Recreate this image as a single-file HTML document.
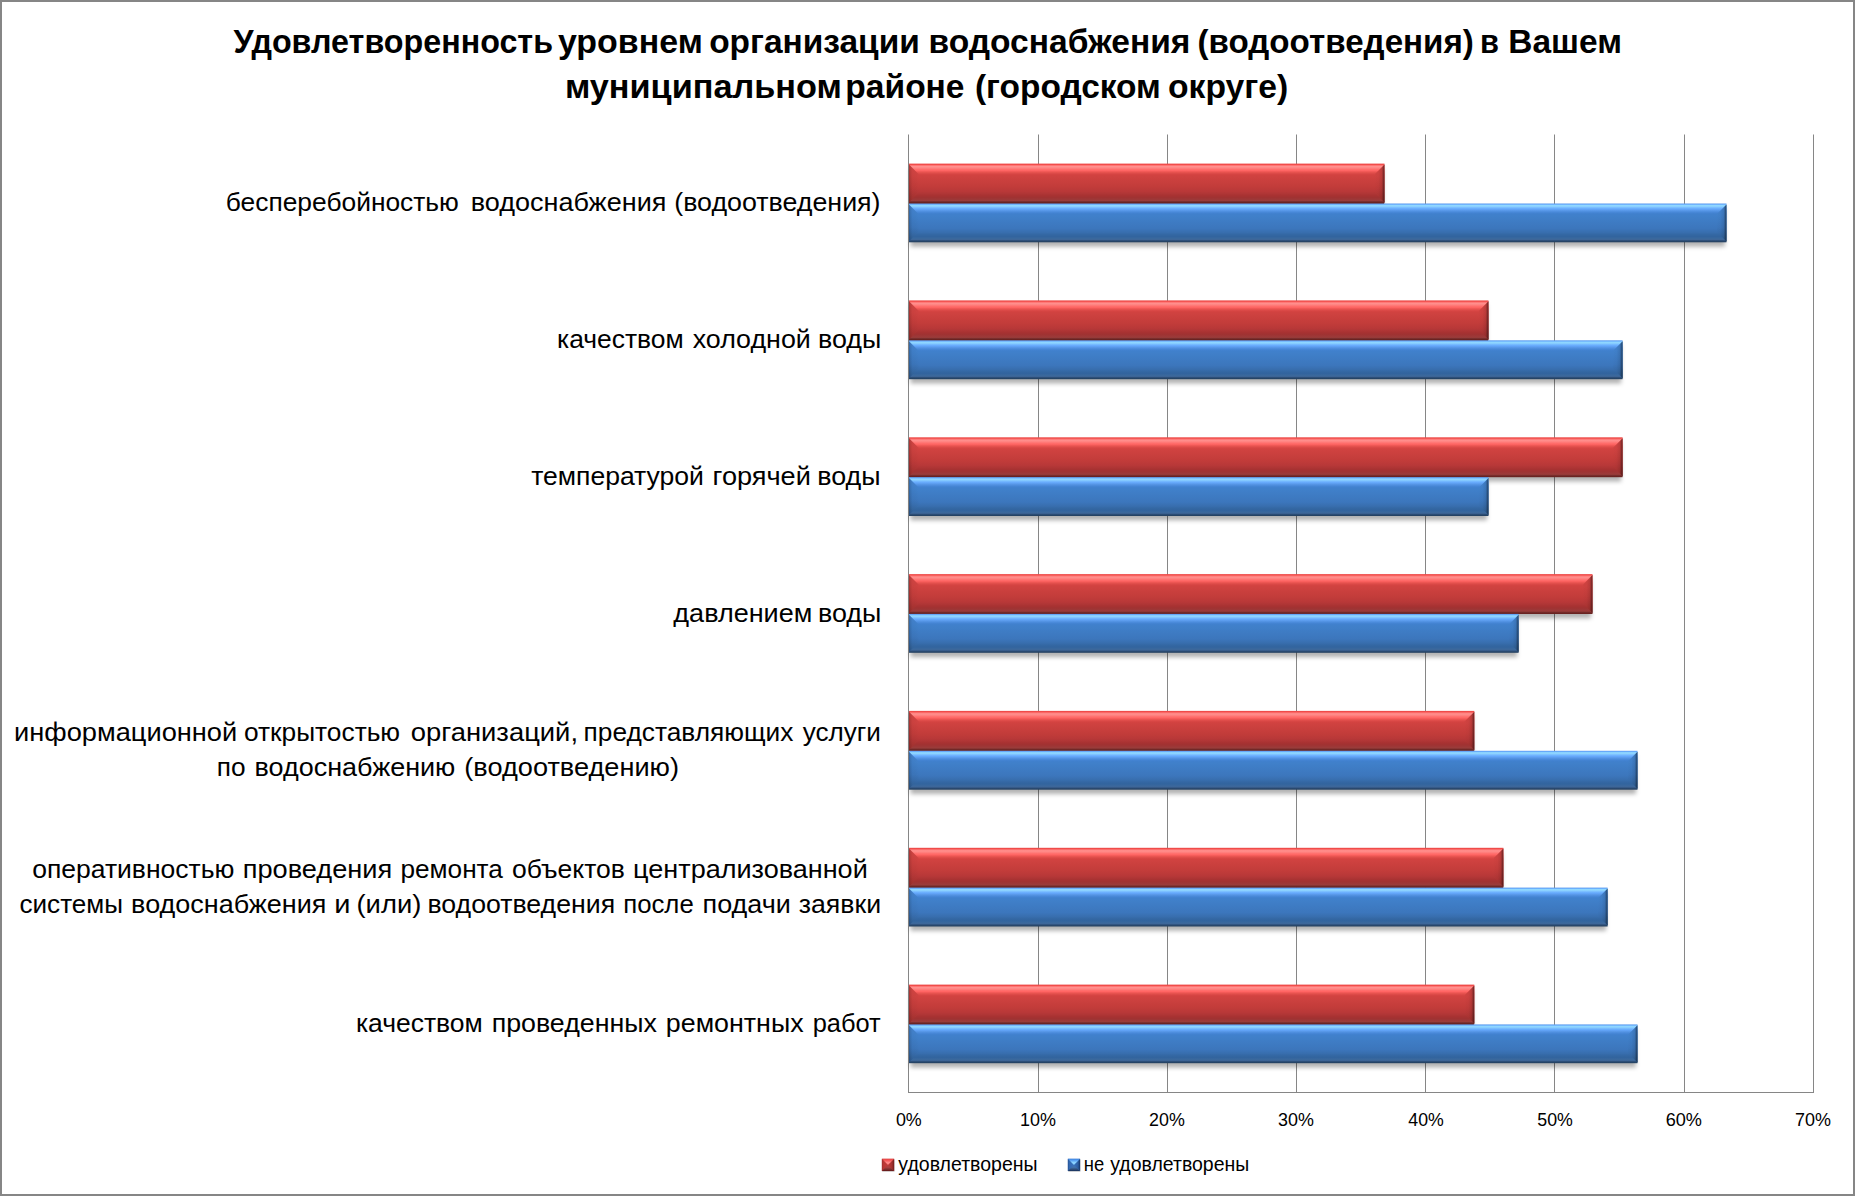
<!DOCTYPE html>
<html lang="ru"><head><meta charset="utf-8">
<title>Удовлетворенность уровнем организации водоснабжения (водоотведения)</title>
<style>
html,body{margin:0;padding:0;background:#fff;}
body{width:1855px;height:1196px;overflow:hidden;}
svg{display:block;}
text{font-family:"Liberation Sans", "DejaVu Sans", sans-serif;fill:#000;}
.t{font-weight:bold;font-size:33px;}
.c{font-size:25px;}
.a{font-size:18.6px;}
.l{font-size:19.6px;}
</style></head><body>
<svg width="1855" height="1196" viewBox="0 0 1855 1196">
<defs>
<linearGradient id="gr" x1="0" y1="0" x2="0" y2="1">
<stop offset="0" stop-color="#ec4a48"/>
<stop offset="0.02258" stop-color="#f04c4a"/>
<stop offset="0.04768" stop-color="#ff7472"/>
<stop offset="0.07277" stop-color="#ff908e"/>
<stop offset="0.09787" stop-color="#ff8886"/>
<stop offset="0.123" stop-color="#ff7c7a"/>
<stop offset="0.1481" stop-color="#ff6e6c"/>
<stop offset="0.1731" stop-color="#ff6664"/>
<stop offset="0.1982" stop-color="#f25a58"/>
<stop offset="0.2233" stop-color="#e6524e"/>
<stop offset="0.2484" stop-color="#dc4a48"/>
<stop offset="0.2735" stop-color="#d54442"/>
<stop offset="0.2986" stop-color="#d14240"/>
<stop offset="0.3237" stop-color="#cf4240"/>
<stop offset="0.5747" stop-color="#c23c3a"/>
<stop offset="0.7001" stop-color="#b83838"/>
<stop offset="0.7503" stop-color="#b03636"/>
<stop offset="0.8005" stop-color="#a83232"/>
<stop offset="0.8507" stop-color="#a03232"/>
<stop offset="0.9009" stop-color="#9c3838"/>
<stop offset="0.926" stop-color="#9a3c3a"/>
<stop offset="0.941" stop-color="#8c3634"/>
<stop offset="0.9511" stop-color="#7c3030"/>
<stop offset="0.9762" stop-color="#6a2422"/>
<stop offset="1" stop-color="#682220"/>
</linearGradient>
<linearGradient id="gb" x1="0" y1="0" x2="0" y2="1">
<stop offset="0" stop-color="#5c9cec"/>
<stop offset="0.02188" stop-color="#68acfc"/>
<stop offset="0.04762" stop-color="#90d8ff"/>
<stop offset="0.07336" stop-color="#8cd2ff"/>
<stop offset="0.0991" stop-color="#7cc0ff"/>
<stop offset="0.1248" stop-color="#6cb0fe"/>
<stop offset="0.1506" stop-color="#62a4f8"/>
<stop offset="0.1763" stop-color="#5a9aea"/>
<stop offset="0.2021" stop-color="#5090e0"/>
<stop offset="0.2278" stop-color="#4888d8"/>
<stop offset="0.2535" stop-color="#4282d0"/>
<stop offset="0.2793" stop-color="#4080cc"/>
<stop offset="0.3179" stop-color="#4080ca"/>
<stop offset="0.6448" stop-color="#3c76bc"/>
<stop offset="0.7477" stop-color="#386eae"/>
<stop offset="0.7992" stop-color="#3468a4"/>
<stop offset="0.8507" stop-color="#32649e"/>
<stop offset="0.8764" stop-color="#36669e"/>
<stop offset="0.9022" stop-color="#3a689c"/>
<stop offset="0.9279" stop-color="#3e6698"/>
<stop offset="0.9434" stop-color="#365a88"/>
<stop offset="0.9537" stop-color="#2e507a"/>
<stop offset="0.9794" stop-color="#264466"/>
<stop offset="1" stop-color="#244060"/>
</linearGradient>
<linearGradient id="fr" x1="0" y1="0" x2="0" y2="1">
<stop offset="0" stop-color="#d44644"/>
<stop offset="0.3" stop-color="#cf4240"/>
<stop offset="0.57" stop-color="#c23c3a"/>
<stop offset="0.7" stop-color="#b83838"/>
<stop offset="0.85" stop-color="#aa3432"/>
<stop offset="1" stop-color="#a03230"/>
</linearGradient>
<linearGradient id="fb" x1="0" y1="0" x2="0" y2="1">
<stop offset="0" stop-color="#4686d2"/>
<stop offset="0.3" stop-color="#4080ca"/>
<stop offset="0.62" stop-color="#3c76bc"/>
<stop offset="0.75" stop-color="#386eae"/>
<stop offset="0.87" stop-color="#34669f"/>
<stop offset="1" stop-color="#305f98"/>
</linearGradient>
<linearGradient id="hl" x1="0" y1="0" x2="1" y2="0">
<stop offset="0" stop-color="#000" stop-opacity="0.24"/>
<stop offset="0.12" stop-color="#000" stop-opacity="0.12"/>
<stop offset="0.35" stop-color="#000" stop-opacity="0.03"/>
<stop offset="1" stop-color="#000" stop-opacity="0"/>
</linearGradient>
<linearGradient id="hr" x1="0" y1="0" x2="1" y2="0">
<stop offset="0" stop-color="#000" stop-opacity="0"/>
<stop offset="0.37" stop-color="#000" stop-opacity="0.02"/>
<stop offset="0.68" stop-color="#000" stop-opacity="0.095"/>
<stop offset="0.8" stop-color="#000" stop-opacity="0.23"/>
<stop offset="0.895" stop-color="#000" stop-opacity="0.38"/>
<stop offset="1" stop-color="#000" stop-opacity="0.46"/>
</linearGradient>
<linearGradient id="mtr" x1="0" y1="0" x2="0" y2="1">
<stop offset="0" stop-color="#e64242"/>
<stop offset="0.25" stop-color="#f45656"/>
<stop offset="0.65" stop-color="#ff8c8c"/>
<stop offset="1" stop-color="#f87472"/>
</linearGradient>
<linearGradient id="mlr" x1="0" y1="0" x2="1" y2="0">
<stop offset="0" stop-color="#9c2c2a"/>
<stop offset="0.2" stop-color="#b83634"/>
<stop offset="1" stop-color="#c43c3a"/>
</linearGradient>
<linearGradient id="mrr" x1="0" y1="0" x2="1" y2="0">
<stop offset="0" stop-color="#c03a38"/>
<stop offset="0.6" stop-color="#a63230"/>
<stop offset="0.85" stop-color="#8a2826"/>
<stop offset="1" stop-color="#6a1818"/>
</linearGradient>
<linearGradient id="mbr" x1="0" y1="0" x2="0" y2="1">
<stop offset="0" stop-color="#b84240"/>
<stop offset="0.4" stop-color="#a84040"/>
<stop offset="0.72" stop-color="#7e2e2e"/>
<stop offset="1" stop-color="#601616"/>
</linearGradient>
<linearGradient id="mtb" x1="0" y1="0" x2="0" y2="1">
<stop offset="0" stop-color="#3a82de"/>
<stop offset="0.25" stop-color="#589ff2"/>
<stop offset="0.65" stop-color="#90d8ff"/>
<stop offset="1" stop-color="#7ac2fc"/>
</linearGradient>
<linearGradient id="mlb" x1="0" y1="0" x2="1" y2="0">
<stop offset="0" stop-color="#1e4c8c"/>
<stop offset="0.2" stop-color="#3468b0"/>
<stop offset="1" stop-color="#3a72bc"/>
</linearGradient>
<linearGradient id="mrb" x1="0" y1="0" x2="1" y2="0">
<stop offset="0" stop-color="#3870b8"/>
<stop offset="0.6" stop-color="#2e60a4"/>
<stop offset="0.85" stop-color="#224a84"/>
<stop offset="1" stop-color="#14305c"/>
</linearGradient>
<linearGradient id="mbb" x1="0" y1="0" x2="0" y2="1">
<stop offset="0" stop-color="#4072b6"/>
<stop offset="0.4" stop-color="#4070a8"/>
<stop offset="0.72" stop-color="#304e7a"/>
<stop offset="1" stop-color="#16305a"/>
</linearGradient>
<filter id="sh" x="-2%" y="-40%" width="104%" height="200%"><feGaussianBlur stdDeviation="2"/></filter>
<filter id="shm" x="-40%" y="-40%" width="180%" height="180%"><feGaussianBlur stdDeviation="0.7"/></filter>
</defs>
<rect x="0" y="0" width="1855" height="1196" fill="#fff"/>
<rect x="1" y="1" width="1853" height="1194" fill="none" stroke="#868686" stroke-width="2"/>
<rect x="908" y="134.5" width="1" height="958.5" fill="#868686"/>
<rect x="1038" y="134.5" width="1" height="958.5" fill="#868686"/>
<rect x="1167" y="134.5" width="1" height="958.5" fill="#868686"/>
<rect x="1296" y="134.5" width="1" height="958.5" fill="#868686"/>
<rect x="1425" y="134.5" width="1" height="958.5" fill="#868686"/>
<rect x="1554" y="134.5" width="1" height="958.5" fill="#868686"/>
<rect x="1684" y="134.5" width="1" height="958.5" fill="#868686"/>
<rect x="1813" y="134.5" width="1" height="958.5" fill="#868686"/>
<rect x="908" y="1092" width="906" height="1" fill="#868686"/>
<rect x="910.5" y="167.9" width="472.5" height="39.8" fill="#000" fill-opacity="0.3" filter="url(#sh)"/><rect x="909.0" y="163.6" width="475.5" height="39.8" fill="url(#gr)"/><polygon points="909.0,164.5 918.5,174.0 918.5,193.1 909.0,202.6" fill="url(#fr)"/><polygon points="909.0,164.5 918.5,174.0 918.5,193.1 909.0,202.6" fill="url(#hl)"/><polygon points="1384.5,164.5 1375.0,174.0 1375.0,193.1 1384.5,202.6" fill="url(#fr)"/><polygon points="1384.5,164.5 1375.0,174.0 1375.0,193.1 1384.5,202.6" fill="url(#hr)"/>
<rect x="909.0" y="203.05" width="475.0" height="1.4" fill="#682220"/>
<rect x="910.5" y="207.8" width="814.5" height="38.8" fill="#000" fill-opacity="0.3" filter="url(#sh)"/><rect x="909.0" y="203.5" width="817.5" height="38.8" fill="url(#gb)"/><polygon points="909.0,204.4 918.5,213.9 918.5,231.9 909.0,241.4" fill="url(#fb)"/><polygon points="909.0,204.4 918.5,213.9 918.5,231.9 909.0,241.4" fill="url(#hl)"/><polygon points="1726.5,204.4 1717.0,213.9 1717.0,231.9 1726.5,241.4" fill="url(#fb)"/><polygon points="1726.5,204.4 1717.0,213.9 1717.0,231.9 1726.5,241.4" fill="url(#hr)"/>
<rect x="910.5" y="304.7" width="576.5" height="39.9" fill="#000" fill-opacity="0.3" filter="url(#sh)"/><rect x="909.0" y="300.4" width="579.5" height="39.9" fill="url(#gr)"/><polygon points="909.0,301.3 918.5,310.8 918.5,329.9 909.0,339.4" fill="url(#fr)"/><polygon points="909.0,301.3 918.5,310.8 918.5,329.9 909.0,339.4" fill="url(#hl)"/><polygon points="1488.5,301.3 1479.0,310.8 1479.0,329.9 1488.5,339.4" fill="url(#fr)"/><polygon points="1488.5,301.3 1479.0,310.8 1479.0,329.9 1488.5,339.4" fill="url(#hr)"/>
<rect x="909.0" y="339.88" width="579.0" height="1.4" fill="#682220"/>
<rect x="910.5" y="344.6" width="710.6" height="38.9" fill="#000" fill-opacity="0.3" filter="url(#sh)"/><rect x="909.0" y="340.3" width="713.6" height="38.9" fill="url(#gb)"/><polygon points="909.0,341.2 918.5,350.7 918.5,368.7 909.0,378.2" fill="url(#fb)"/><polygon points="909.0,341.2 918.5,350.7 918.5,368.7 909.0,378.2" fill="url(#hl)"/><polygon points="1622.6,341.2 1613.1,350.7 1613.1,368.7 1622.6,378.2" fill="url(#fb)"/><polygon points="1622.6,341.2 1613.1,350.7 1613.1,368.7 1622.6,378.2" fill="url(#hr)"/>
<rect x="910.5" y="441.6" width="710.6" height="39.9" fill="#000" fill-opacity="0.3" filter="url(#sh)"/><rect x="909.0" y="437.3" width="713.6" height="39.9" fill="url(#gr)"/><polygon points="909.0,438.2 918.5,447.7 918.5,466.7 909.0,476.2" fill="url(#fr)"/><polygon points="909.0,438.2 918.5,447.7 918.5,466.7 909.0,476.2" fill="url(#hl)"/><polygon points="1622.6,438.2 1613.1,447.7 1613.1,466.7 1622.6,476.2" fill="url(#fr)"/><polygon points="1622.6,438.2 1613.1,447.7 1613.1,466.7 1622.6,476.2" fill="url(#hr)"/>
<rect x="909.0" y="476.71" width="579.0" height="1.4" fill="#682220"/>
<rect x="910.5" y="481.4" width="576.5" height="38.9" fill="#000" fill-opacity="0.3" filter="url(#sh)"/><rect x="909.0" y="477.1" width="579.5" height="38.9" fill="url(#gb)"/><polygon points="909.0,478.0 918.5,487.5 918.5,505.6 909.0,515.1" fill="url(#fb)"/><polygon points="909.0,478.0 918.5,487.5 918.5,505.6 909.0,515.1" fill="url(#hl)"/><polygon points="1488.5,478.0 1479.0,487.5 1479.0,505.6 1488.5,515.1" fill="url(#fb)"/><polygon points="1488.5,478.0 1479.0,487.5 1479.0,505.6 1488.5,515.1" fill="url(#hr)"/>
<rect x="910.5" y="578.4" width="680.5" height="39.9" fill="#000" fill-opacity="0.3" filter="url(#sh)"/><rect x="909.0" y="574.1" width="683.5" height="39.9" fill="url(#gr)"/><polygon points="909.0,575.0 918.5,584.5 918.5,603.5 909.0,613.0" fill="url(#fr)"/><polygon points="909.0,575.0 918.5,584.5 918.5,603.5 909.0,613.0" fill="url(#hl)"/><polygon points="1592.5,575.0 1583.0,584.5 1583.0,603.5 1592.5,613.0" fill="url(#fr)"/><polygon points="1592.5,575.0 1583.0,584.5 1583.0,603.5 1592.5,613.0" fill="url(#hr)"/>
<rect x="909.0" y="613.54" width="609.1" height="1.4" fill="#682220"/>
<rect x="910.5" y="618.2" width="606.6" height="38.9" fill="#000" fill-opacity="0.3" filter="url(#sh)"/><rect x="909.0" y="613.9" width="609.6" height="38.9" fill="url(#gb)"/><polygon points="909.0,614.8 918.5,624.3 918.5,642.4 909.0,651.9" fill="url(#fb)"/><polygon points="909.0,614.8 918.5,624.3 918.5,642.4 909.0,651.9" fill="url(#hl)"/><polygon points="1518.6,614.8 1509.1,624.3 1509.1,642.4 1518.6,651.9" fill="url(#fb)"/><polygon points="1518.6,614.8 1509.1,624.3 1509.1,642.4 1518.6,651.9" fill="url(#hr)"/>
<rect x="910.5" y="715.2" width="562.3" height="39.9" fill="#000" fill-opacity="0.3" filter="url(#sh)"/><rect x="909.0" y="710.9" width="565.3" height="39.9" fill="url(#gr)"/><polygon points="909.0,711.8 918.5,721.3 918.5,740.4 909.0,749.9" fill="url(#fr)"/><polygon points="909.0,711.8 918.5,721.3 918.5,740.4 909.0,749.9" fill="url(#hl)"/><polygon points="1474.3,711.8 1464.8,721.3 1464.8,740.4 1474.3,749.9" fill="url(#fr)"/><polygon points="1474.3,711.8 1464.8,721.3 1464.8,740.4 1474.3,749.9" fill="url(#hr)"/>
<rect x="909.0" y="750.37" width="564.8" height="1.4" fill="#682220"/>
<rect x="910.5" y="755.1" width="725.5" height="38.9" fill="#000" fill-opacity="0.3" filter="url(#sh)"/><rect x="909.0" y="750.8" width="728.5" height="38.9" fill="url(#gb)"/><polygon points="909.0,751.7 918.5,761.2 918.5,779.2 909.0,788.7" fill="url(#fb)"/><polygon points="909.0,751.7 918.5,761.2 918.5,779.2 909.0,788.7" fill="url(#hl)"/><polygon points="1637.5,751.7 1628.0,761.2 1628.0,779.2 1637.5,788.7" fill="url(#fb)"/><polygon points="1637.5,751.7 1628.0,761.2 1628.0,779.2 1637.5,788.7" fill="url(#hr)"/>
<rect x="910.5" y="852.0" width="591.4" height="39.9" fill="#000" fill-opacity="0.3" filter="url(#sh)"/><rect x="909.0" y="847.8" width="594.4" height="39.9" fill="url(#gr)"/><polygon points="909.0,848.6 918.5,858.1 918.5,877.2 909.0,886.7" fill="url(#fr)"/><polygon points="909.0,848.6 918.5,858.1 918.5,877.2 909.0,886.7" fill="url(#hl)"/><polygon points="1503.4,848.6 1493.9,858.1 1493.9,877.2 1503.4,886.7" fill="url(#fr)"/><polygon points="1503.4,848.6 1493.9,858.1 1493.9,877.2 1503.4,886.7" fill="url(#hr)"/>
<rect x="909.0" y="887.20" width="593.9" height="1.4" fill="#682220"/>
<rect x="910.5" y="891.9" width="695.6" height="38.9" fill="#000" fill-opacity="0.3" filter="url(#sh)"/><rect x="909.0" y="887.6" width="698.6" height="38.9" fill="url(#gb)"/><polygon points="909.0,888.5 918.5,898.0 918.5,916.1 909.0,925.6" fill="url(#fb)"/><polygon points="909.0,888.5 918.5,898.0 918.5,916.1 909.0,925.6" fill="url(#hl)"/><polygon points="1607.6,888.5 1598.1,898.0 1598.1,916.1 1607.6,925.6" fill="url(#fb)"/><polygon points="1607.6,888.5 1598.1,898.0 1598.1,916.1 1607.6,925.6" fill="url(#hr)"/>
<rect x="910.5" y="988.9" width="562.3" height="39.9" fill="#000" fill-opacity="0.3" filter="url(#sh)"/><rect x="909.0" y="984.6" width="565.3" height="39.9" fill="url(#gr)"/><polygon points="909.0,985.5 918.5,995.0 918.5,1014.0 909.0,1023.5" fill="url(#fr)"/><polygon points="909.0,985.5 918.5,995.0 918.5,1014.0 909.0,1023.5" fill="url(#hl)"/><polygon points="1474.3,985.5 1464.8,995.0 1464.8,1014.0 1474.3,1023.5" fill="url(#fr)"/><polygon points="1474.3,985.5 1464.8,995.0 1464.8,1014.0 1474.3,1023.5" fill="url(#hr)"/>
<rect x="909.0" y="1024.03" width="564.8" height="1.4" fill="#682220"/>
<rect x="910.5" y="1028.7" width="725.5" height="38.8" fill="#000" fill-opacity="0.3" filter="url(#sh)"/><rect x="909.0" y="1024.4" width="728.5" height="38.8" fill="url(#gb)"/><polygon points="909.0,1025.3 918.5,1034.8 918.5,1052.9 909.0,1062.4" fill="url(#fb)"/><polygon points="909.0,1025.3 918.5,1034.8 918.5,1052.9 909.0,1062.4" fill="url(#hl)"/><polygon points="1637.5,1025.3 1628.0,1034.8 1628.0,1052.9 1637.5,1062.4" fill="url(#fb)"/><polygon points="1637.5,1025.3 1628.0,1034.8 1628.0,1052.9 1637.5,1062.4" fill="url(#hr)"/>
<text class="t" y="53.0"><tspan x="233.38" textLength="319.64" lengthAdjust="spacingAndGlyphs">Удовлетворенность</tspan> <tspan x="557.94" textLength="144.82" lengthAdjust="spacingAndGlyphs">уровнем</tspan> <tspan x="709.20" textLength="210.62" lengthAdjust="spacingAndGlyphs">организации</tspan> <tspan x="928.48" textLength="261.95" lengthAdjust="spacingAndGlyphs">водоснабжения</tspan> <tspan x="1197.56" textLength="276.28" lengthAdjust="spacingAndGlyphs">(водоотведения)</tspan> <tspan x="1480.05" textLength="18.96" lengthAdjust="spacingAndGlyphs">в</tspan> <tspan x="1508.27" textLength="113.66" lengthAdjust="spacingAndGlyphs">Вашем</tspan></text>
<text class="t" y="98.0"><tspan x="564.92" textLength="276.97" lengthAdjust="spacingAndGlyphs">муниципальном</tspan> <tspan x="845.39" textLength="119.16" lengthAdjust="spacingAndGlyphs">районе</tspan> <tspan x="974.95" textLength="185.85" lengthAdjust="spacingAndGlyphs">(городском</tspan> <tspan x="1167.99" textLength="120.18" lengthAdjust="spacingAndGlyphs">округе)</tspan></text>
<text class="c" y="211.0"><tspan x="225.76" textLength="233.15" lengthAdjust="spacingAndGlyphs">бесперебойностью</tspan> <tspan x="470.74" textLength="195.62" lengthAdjust="spacingAndGlyphs">водоснабжения</tspan> <tspan x="674.26" textLength="206.29" lengthAdjust="spacingAndGlyphs">(водоотведения)</tspan></text>
<text class="c" y="348.0"><tspan x="557.02" textLength="126.69" lengthAdjust="spacingAndGlyphs">качеством</tspan> <tspan x="692.70" textLength="118.14" lengthAdjust="spacingAndGlyphs">холодной</tspan> <tspan x="817.96" textLength="63.27" lengthAdjust="spacingAndGlyphs">воды</tspan></text>
<text class="c" y="485.0"><tspan x="531.15" textLength="172.78" lengthAdjust="spacingAndGlyphs">температурой</tspan> <tspan x="712.64" textLength="98.23" lengthAdjust="spacingAndGlyphs">горячей</tspan> <tspan x="817.26" textLength="63.38" lengthAdjust="spacingAndGlyphs">воды</tspan></text>
<text class="c" y="622.0"><tspan x="673.34" textLength="139.02" lengthAdjust="spacingAndGlyphs">давлением</tspan> <tspan x="817.96" textLength="63.27" lengthAdjust="spacingAndGlyphs">воды</tspan></text>
<text class="c" y="741.0"><tspan x="14.11" textLength="223.07" lengthAdjust="spacingAndGlyphs">информационной</tspan> <tspan x="244.00" textLength="156.10" lengthAdjust="spacingAndGlyphs">открытостью</tspan> <tspan x="410.85" textLength="167.20" lengthAdjust="spacingAndGlyphs">организаций,</tspan> <tspan x="583.59" textLength="209.79" lengthAdjust="spacingAndGlyphs">представляющих</tspan> <tspan x="802.74" textLength="78.17" lengthAdjust="spacingAndGlyphs">услуги</tspan></text>
<text class="c" y="776.0"><tspan x="216.88" textLength="28.82" lengthAdjust="spacingAndGlyphs">по</tspan> <tspan x="254.54" textLength="200.78" lengthAdjust="spacingAndGlyphs">водоснабжению</tspan> <tspan x="464.34" textLength="214.63" lengthAdjust="spacingAndGlyphs">(водоотведению)</tspan></text>
<text class="c" y="878.0"><tspan x="32.19" textLength="202.22" lengthAdjust="spacingAndGlyphs">оперативностью</tspan> <tspan x="242.73" textLength="149.45" lengthAdjust="spacingAndGlyphs">проведения</tspan> <tspan x="400.42" textLength="102.48" lengthAdjust="spacingAndGlyphs">ремонта</tspan> <tspan x="511.90" textLength="112.95" lengthAdjust="spacingAndGlyphs">объектов</tspan> <tspan x="633.13" textLength="234.63" lengthAdjust="spacingAndGlyphs">централизованной</tspan></text>
<text class="c" y="913.0"><tspan x="19.49" textLength="103.61" lengthAdjust="spacingAndGlyphs">системы</tspan> <tspan x="131.14" textLength="195.32" lengthAdjust="spacingAndGlyphs">водоснабжения</tspan> <tspan x="334.39" textLength="16.23" lengthAdjust="spacingAndGlyphs">и</tspan> <tspan x="356.50" textLength="64.80" lengthAdjust="spacingAndGlyphs">(или)</tspan> <tspan x="427.47" textLength="187.65" lengthAdjust="spacingAndGlyphs">водоотведения</tspan> <tspan x="623.21" textLength="70.53" lengthAdjust="spacingAndGlyphs">после</tspan> <tspan x="702.56" textLength="88.19" lengthAdjust="spacingAndGlyphs">подачи</tspan> <tspan x="798.76" textLength="82.29" lengthAdjust="spacingAndGlyphs">заявки</tspan></text>
<text class="c" y="1032.0"><tspan x="355.92" textLength="126.90" lengthAdjust="spacingAndGlyphs">качеством</tspan> <tspan x="491.65" textLength="165.23" lengthAdjust="spacingAndGlyphs">проведенных</tspan> <tspan x="665.87" textLength="137.72" lengthAdjust="spacingAndGlyphs">ремонтных</tspan> <tspan x="812.67" textLength="68.06" lengthAdjust="spacingAndGlyphs">работ</tspan></text>
<text class="a" y="1126.0"><tspan x="895.90" textLength="25.84" lengthAdjust="spacingAndGlyphs">0%</tspan></text>
<text class="a" y="1126.0"><tspan x="1020.03" textLength="35.91" lengthAdjust="spacingAndGlyphs">10%</tspan></text>
<text class="a" y="1126.0"><tspan x="1149.10" textLength="35.73" lengthAdjust="spacingAndGlyphs">20%</tspan></text>
<text class="a" y="1126.0"><tspan x="1278.12" textLength="35.82" lengthAdjust="spacingAndGlyphs">30%</tspan></text>
<text class="a" y="1126.0"><tspan x="1408.29" textLength="35.44" lengthAdjust="spacingAndGlyphs">40%</tspan></text>
<text class="a" y="1126.0"><tspan x="1537.29" textLength="35.54" lengthAdjust="spacingAndGlyphs">50%</tspan></text>
<text class="a" y="1126.0"><tspan x="1665.68" textLength="36.27" lengthAdjust="spacingAndGlyphs">60%</tspan></text>
<text class="a" y="1126.0"><tspan x="1795.08" textLength="35.96" lengthAdjust="spacingAndGlyphs">70%</tspan></text>
<rect x="882.30" y="1159.45" width="12.20" height="12.20" fill="#000" fill-opacity="0.25" filter="url(#shm)"/><rect x="881.90" y="1158.85" width="12.20" height="12.20" fill="#b43634"/><polygon points="881.90,1158.85 888.00,1164.95 881.90,1171.05" fill="url(#mlr)"/><polygon points="894.10,1158.85 888.00,1164.95 894.10,1171.05" fill="url(#mrr)"/><polygon points="881.90,1171.05 888.00,1164.95 894.10,1171.05" fill="url(#mbr)"/><polygon points="881.90,1158.85 888.00,1164.95 894.10,1158.85" fill="url(#mtr)"/>
<text class="l" y="1171.0"><tspan x="898.35" textLength="139.18" lengthAdjust="spacingAndGlyphs">удовлетворены</tspan></text>
<rect x="1068.25" y="1159.45" width="12.20" height="12.20" fill="#000" fill-opacity="0.25" filter="url(#shm)"/><rect x="1067.85" y="1158.85" width="12.20" height="12.20" fill="#3568b0"/><polygon points="1067.85,1158.85 1073.95,1164.95 1067.85,1171.05" fill="url(#mlb)"/><polygon points="1080.05,1158.85 1073.95,1164.95 1080.05,1171.05" fill="url(#mrb)"/><polygon points="1067.85,1171.05 1073.95,1164.95 1080.05,1171.05" fill="url(#mbb)"/><polygon points="1067.85,1158.85 1073.95,1164.95 1080.05,1158.85" fill="url(#mtb)"/>
<text class="l" y="1171.0"><tspan x="1083.82" textLength="20.39" lengthAdjust="spacingAndGlyphs">не</tspan> <tspan x="1110.25" textLength="138.98" lengthAdjust="spacingAndGlyphs">удовлетворены</tspan></text>
</svg>
</body></html>
